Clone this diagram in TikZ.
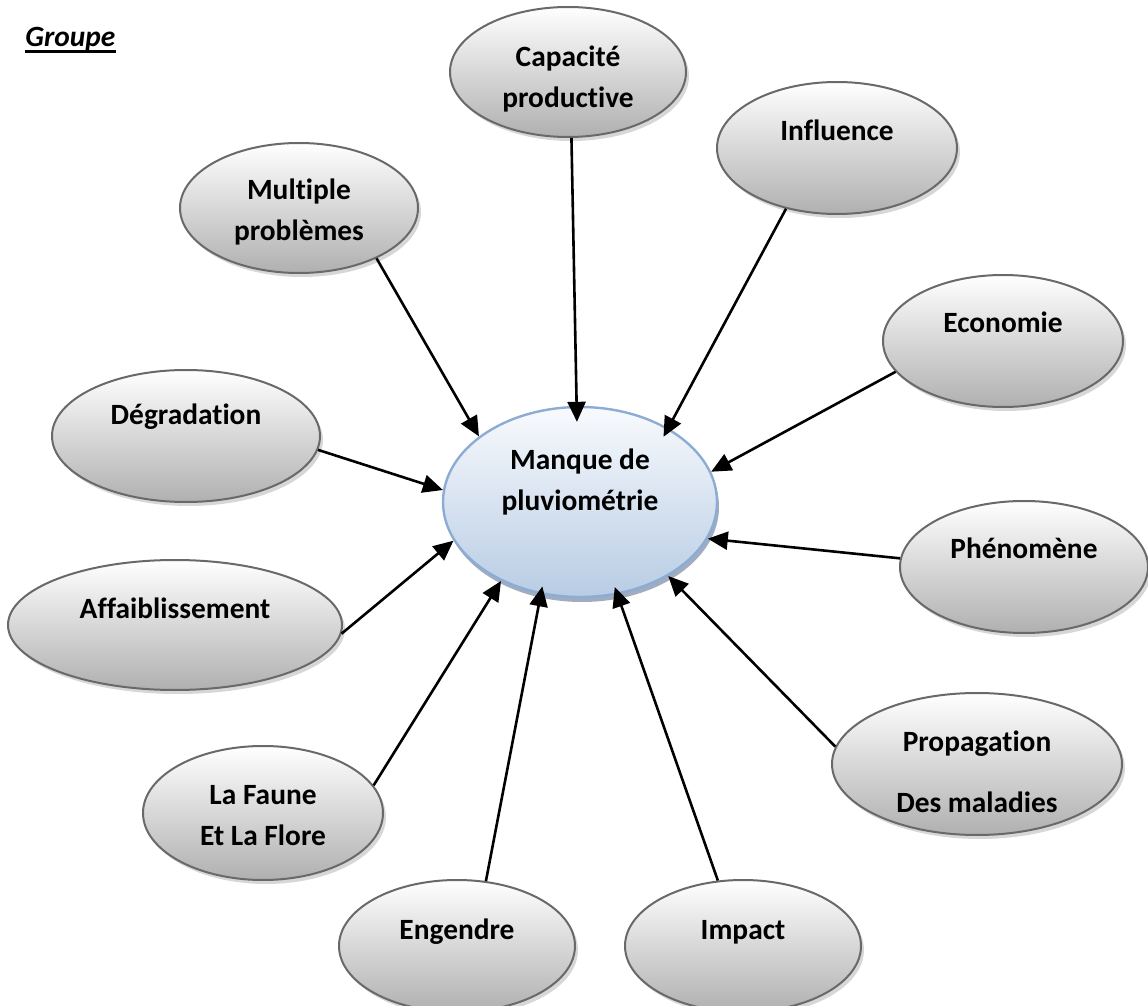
\documentclass[tikz,border=0pt]{standalone}
\usepackage{fontspec}
\setmainfont{Carlito}[Ligatures=NoCommon]
\usetikzlibrary{shapes.geometric,shadows,arrows.meta}

\definecolor{coretop}{RGB}{248,250,253}
\definecolor{corebot}{RGB}{184,204,228}
\definecolor{coreline}{RGB}{140,172,212}
\definecolor{coreshade}{RGB}{120,138,165}
\definecolor{bubline}{RGB}{105,105,105}

\tikzset{
    bubble/.style={ellipse, draw=bubline, line width=1pt, inner sep=0pt,
        top color=white, bottom color=gray!62,
        drop shadow={shadow xshift=1.5pt, shadow yshift=-2pt, fill=gray!70, opacity=0.45}},
    core/.style={ellipse, draw=coreline, line width=1.2pt, inner sep=0pt,
        top color=coretop, bottom color=corebot,
        drop shadow={shadow xshift=1pt, shadow yshift=-2.5pt, fill=coreshade, opacity=0.7}},
    txt/.style={font=\bfseries\fontsize{14.7}{20.5}\selectfont, align=center},
    link/.style={-{Triangle[length=10pt,width=9pt]}, line width=1.3pt}
}

\begin{document}
\begin{tikzpicture}[x=0.5pt,y=-0.5pt]
    \useasboundingbox (0,0) rectangle (1148,1006);

    % titre
    \node[font=\bfseries\itshape\fontsize{14.7}{18}\selectfont, inner sep=0pt, anchor=base west] (grp) at (25,47) {Groupe};
    \draw[line width=1.3pt] ([yshift=-2.3pt]grp.base west) -- ([yshift=-2.3pt]grp.base east);

    % bulles
    \node[core, minimum width=137pt, minimum height=95pt, label={[txt,yshift=10pt]center:Manque de\\pluviométrie}] (ctr) at (580,502) {};

    \node[bubble, minimum width=118pt, minimum height=65pt, label={[txt,yshift=-3.5pt]center:Capacité\\productive}] (cap) at (568,72) {};
    \node[bubble, minimum width=120pt, minimum height=66pt, label={[txt,yshift=9pt]center:Influence}] (inf) at (837,148) {};
    \node[bubble, minimum width=119pt, minimum height=65pt, label={[txt,yshift=-2pt]center:Multiple\\problèmes}] (mp) at (299,208) {};
    \node[bubble, minimum width=120pt, minimum height=66pt, label={[txt,yshift=9.5pt]center:Economie}] (eco) at (1003,341) {};
    \node[bubble, minimum width=134pt, minimum height=66pt, label={[txt,yshift=9.5pt]center:Dégradation}] (deg) at (186,436) {};
    \node[bubble, minimum width=124pt, minimum height=66pt, label={[txt,yshift=9.5pt]center:Phénomène}] (phe) at (1024,567) {};
    \node[bubble, minimum width=167pt, minimum height=65pt, label={[txt,yshift=8.5pt]center:Affaiblissement}] (aff) at (175,625) {};
    \node[bubble, minimum width=145pt, minimum height=71pt, label={[txt,yshift=-4pt]center:Propagation\\[10pt]Des maladies}] (pro) at (977,764) {};
    \node[bubble, minimum width=120pt, minimum height=67pt, label={[txt,yshift=-1.5pt]center:La Faune\\Et La Flore}] (fau) at (263,813) {};
    \node[bubble, minimum width=118pt, minimum height=66pt, label={[txt,yshift=7pt]center:Engendre}] (eng) at (457,946) {};
    \node[bubble, minimum width=118pt, minimum height=66pt, label={[txt,yshift=7pt]center:Impact}] (imp) at (743,946) {};

    % fleches vers le centre
    \draw[link] (mp.-33) -- (ctr.147);
    \draw[link, shorten >=-8pt] (cap.-87) -- (ctr.92);
    \draw[link, shorten >=-5pt] (inf.-130) -- (ctr.40);
    \draw[link] (eco.-164) -- (ctr.13);
    \draw[link] (deg.-6) -- (ctr.175);
    \draw[link] (phe.176) -- (ctr.-16);
    \draw[link] (aff.-3) -- (ctr.-163);
    \draw[link] (fau.14) -- (ctr.-135);
    \draw[link, shorten >=-4pt] (eng.66) -- (ctr.-113);
    \draw[link, shorten >=-4pt] (imp.111) -- (ctr.-68);
    \draw[link] (pro.173) -- (ctr.-40);

\end{tikzpicture}
\end{document}
